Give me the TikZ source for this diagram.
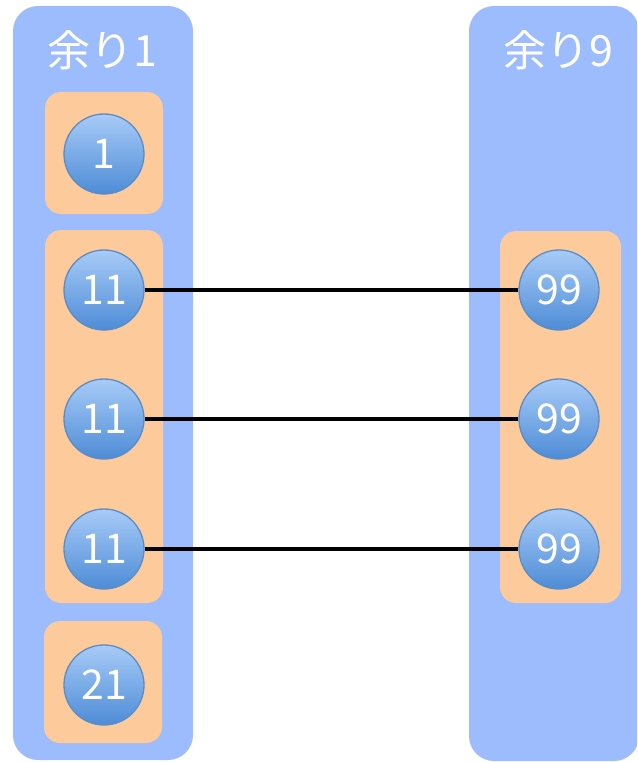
\documentclass[tikz,border=0pt]{standalone}
\usepackage{fontspec}
\setmainfont{Noto Sans CJK JP}
\definecolor{colblue}{HTML}{9DBCFD}
\definecolor{boxorange}{HTML}{FDCA9C}
\definecolor{ctop}{HTML}{A8CBF8}
\definecolor{cbot}{HTML}{4E8CD6}
\definecolor{cedge}{HTML}{5A8CC6}
\tikzset{
  column/.style={fill=colblue, draw=none, rounded corners=25pt},
  group/.style={fill=boxorange, draw=none, rounded corners=16pt},
  num/.style={circle, minimum size=80pt, inner sep=0pt, draw=cedge, line width=1.3pt,
    top color=ctop, bottom color=cbot, text=white, font=\fontsize{41}{41}\selectfont},
  title/.style={text=white, font=\fontsize{43}{43}\selectfont, inner sep=0pt},
  link/.style={draw=black, line width=4.5pt}
}
\begin{document}
\begin{tikzpicture}[x=1pt, y=-1pt]
\useasboundingbox (0,0) rectangle (637,762);
\begin{scope}
\clip (0,0) rectangle (637,762);
\path[column] (13,6) rectangle (193,760);
\path[column] (469,6) rectangle (639,761);
\end{scope}
\path[group] (45,92) rectangle (163,214);
\path[group] (45,230) rectangle (163,603);
\path[group] (44,621) rectangle (162,743);
\path[group] (500,231) rectangle (621,603);
\node[title] (t1) at (102,50) {余り1};
\node[title] (t9) at (558,50) {余り9};
\node[num] (a) at (104,154) {1};
\node[num] (b1) at (104,290) {11};
\node[num] (b2) at (104,419) {11};
\node[num] (b3) at (104,549) {11};
\node[num] (c) at (104,685) {21};
\node[num] (d1) at (559,290) {99};
\node[num] (d2) at (559,419) {99};
\node[num] (d3) at (559,549) {99};
\draw[link] (b1) -- (d1);
\draw[link] (b2) -- (d2);
\draw[link] (b3) -- (d3);
\end{tikzpicture}
\end{document}
